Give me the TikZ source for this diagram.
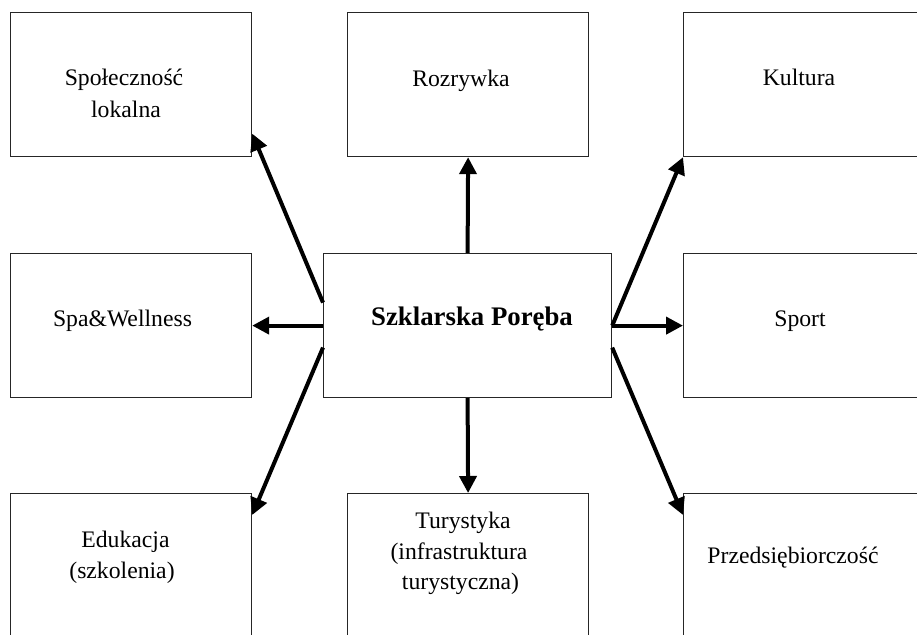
\documentclass[tikz,border=0pt]{standalone}
\usepackage{fontspec}
\setmainfont{Liberation Serif}
\usetikzlibrary{arrows.meta,calc}
\begin{document}
\begin{tikzpicture}[x=1pt,y=-1pt,
  box/.style={draw=black!85,line width=1.2pt,minimum width=241pt,minimum height=144pt,inner sep=0pt,anchor=north west},
  lbl/.style={anchor=base,inner sep=0pt,font=\fontsize{23.7}{31}\selectfont},
  arr/.style={line width=4pt,-{Triangle[length=17pt,width=17pt]}}]
\useasboundingbox (0,0) rectangle (917,634);
\clip (0,0) rectangle (917,634);
% boxes
\node[box] (spol) at (10,12) {};
\node[box] (roz) at (347,12) {};
\node[box] (kul) at (683,12) {};
\node[box] (spa) at (10,253) {};
\node[box,minimum width=288pt] (c) at (323,253) {};
\node[box] (sport) at (683,253) {};
\node[box] (edu) at (10,493) {};
\node[box] (tur) at (347,493) {};
\node[box] (prz) at (683,493) {};
% labels
\node[lbl] (t1a) at (124,85) {Społeczność};
\node[lbl] (t1b) at (126,117) {lokalna};
\node[lbl] (t2) at (461,86) {Rozrywka};
\node[lbl] (t3) at (799,85) {Kultura};
\node[lbl] (t4) at (122.5,326) {Spa\&Wellness};
\node[lbl,font=\fontsize{26.8}{32}\selectfont\bfseries] (t5) at (472,325) {Szklarska Poręba};
\node[lbl] (t6) at (800,326) {Sport};
\node[lbl] (t7a) at (125.5,547) {Edukacja};
\node[lbl] (t7b) at (122,578) {(szkolenia)};
\node[lbl] (t8a) at (463,528) {Turystyka};
\node[lbl] (t8b) at (459,559) {(infrastruktura};
\node[lbl] (t8c) at (460.5,589) {turystyczna)};
\node[lbl] (t9) at (793,563) {Przedsiębiorczość};
% arrows
\draw[arr] (c.north) -- (roz.south);
\draw[arr] (c.south) -- (tur.north);
\draw[arr] (c.west) -- (spa.east);
\draw[arr] (c.east) -- (sport.west);
\draw[arr] ([yshift=23pt]c.west) -- ([yshift=-49pt]spol.east);
\draw[arr] (c.east) -- (kul.south west);
\draw[arr] ([yshift=-22pt]c.west) -- ([yshift=-22pt]edu.north east);
\draw[arr] ([yshift=-22pt]c.east) -- ([yshift=-22pt]prz.north west);
\end{tikzpicture}
\end{document}
